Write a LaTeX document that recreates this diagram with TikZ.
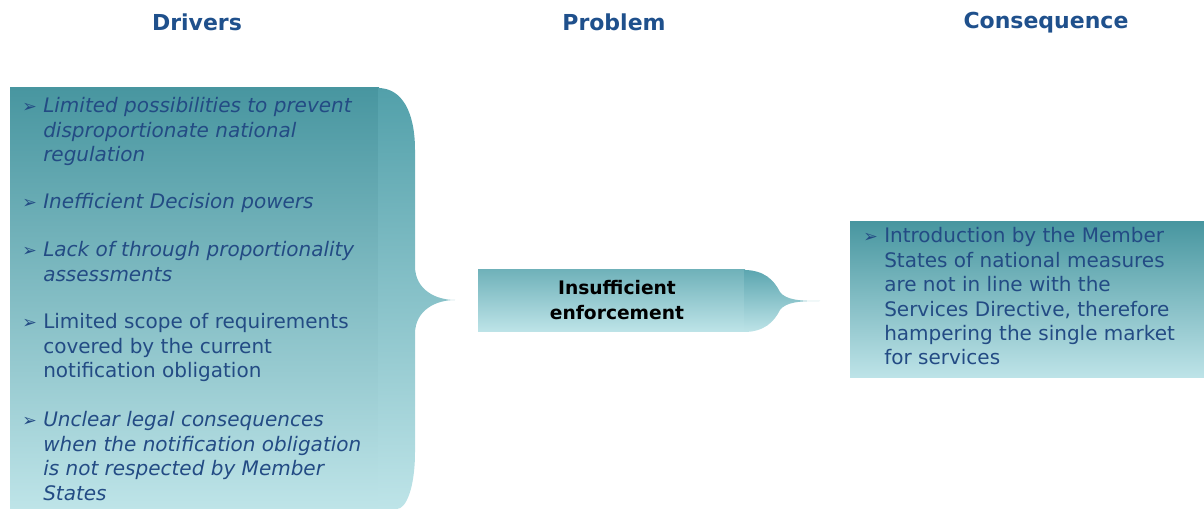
\documentclass[tikz,border=0pt]{standalone}
\usepackage{fontspec}
\setmainfont{DejaVu Sans}
\usetikzlibrary{positioning}
\definecolor{headblue}{RGB}{31,80,140}
\definecolor{textblue}{RGB}{35,75,132}
\definecolor{tealdark}{RGB}{72,150,160}
\definecolor{tealbrace}{RGB}{82,160,170}
\definecolor{teallight}{RGB}{190,228,232}
\definecolor{tealprob}{RGB}{112,178,186}
\definecolor{tealtip}{RGB}{92,166,176}

\newcommand{\bulmark}{{\fontsize{13}{13}\selectfont\upshape ➢}}
\newcommand{\dritem}[1]{\makebox[15.75pt][l]{\bulmark}\begin{tabular}[t]{@{}l@{}}#1\end{tabular}}

\begin{document}
\begin{tikzpicture}[
    x=0.75pt, y=-0.75pt,
    heading/.style={anchor=base, inner sep=0, text=headblue, font=\fontsize{16.5}{19}\selectfont\bfseries},
    bullet/.style={anchor=base west, inner sep=0, text=textblue, font=\fontsize{15}{18.3}\selectfont},
    probtext/.style={anchor=base, inner sep=0, font=\fontsize{14}{18.6}\selectfont\bfseries}
]
\useasboundingbox (0,0) rectangle (1204,509);

% Headings
\node[heading] (hdrivers) at (197,31) {Drivers};
\node[heading] (hproblem) at (614,31) {Problem};
\node[heading] (hconseq) at (1046,29) {Consequence};

% Drivers box with brace
\shade[top color=tealdark, bottom color=teallight] (10,88) rectangle (379,509);
\shade[top color=tealbrace, bottom color=teallight]
    (378,88) .. controls (402,88) and (415,112) .. (415,150) -- (415,266)
    .. controls (415,290) and (436,300) .. (455,300)
    .. controls (436,300) and (415,310) .. (415,334) -- (415,452)
    .. controls (415,488) and (406,509) .. (397,509) -- (378,509) -- cycle;

\node[bullet, font=\fontsize{15}{18.3}\selectfont\itshape] (d1) at (22,113)
    {\dritem{Limited possibilities to prevent\\disproportionate national\\regulation}};
\node[bullet, font=\fontsize{15}{18.3}\selectfont\itshape] (d2) at (22,209)
    {\dritem{Inefficient Decision powers}};
\node[bullet, font=\fontsize{15}{18.3}\selectfont\itshape] (d3) at (22,257)
    {\dritem{Lack of through proportionality\\assessments}};
\node[bullet] (d4) at (22,329)
    {\dritem{Limited scope of requirements\\covered by the current\\notification obligation}};
\node[bullet, font=\fontsize{15}{18.3}\selectfont\itshape] (d5) at (22,427)
    {\dritem{Unclear legal consequences\\when the notification obligation\\is not respected by Member\\States}};

% Problem box with tip
\shade[top color=tealprob, bottom color=teallight] (478,270) rectangle (745,332);
\shade[top color=tealtip, bottom color=teallight]
    (744,270) .. controls (764,270) and (774,280) .. (780,292)
    .. controls (786,300) and (800,301) .. (820,301)
    .. controls (800,301) and (786,302) .. (780,310)
    .. controls (774,322) and (764,332) .. (744,332) -- cycle;
\node[probtext] (prob) at (617,295)
    {\begin{tabular}[t]{@{}c@{}}Insufficient\\enforcement\end{tabular}};

% Consequence box
\shade[top color=tealdark, bottom color=teallight] (850,222) rectangle (1204,378);
\node[bullet] (c1) at (863,243)
    {\dritem{Introduction by the Member\\States of national measures\\are not in line with the\\Services Directive, therefore\\hampering the single market\\for services}};

\end{tikzpicture}
\end{document}
